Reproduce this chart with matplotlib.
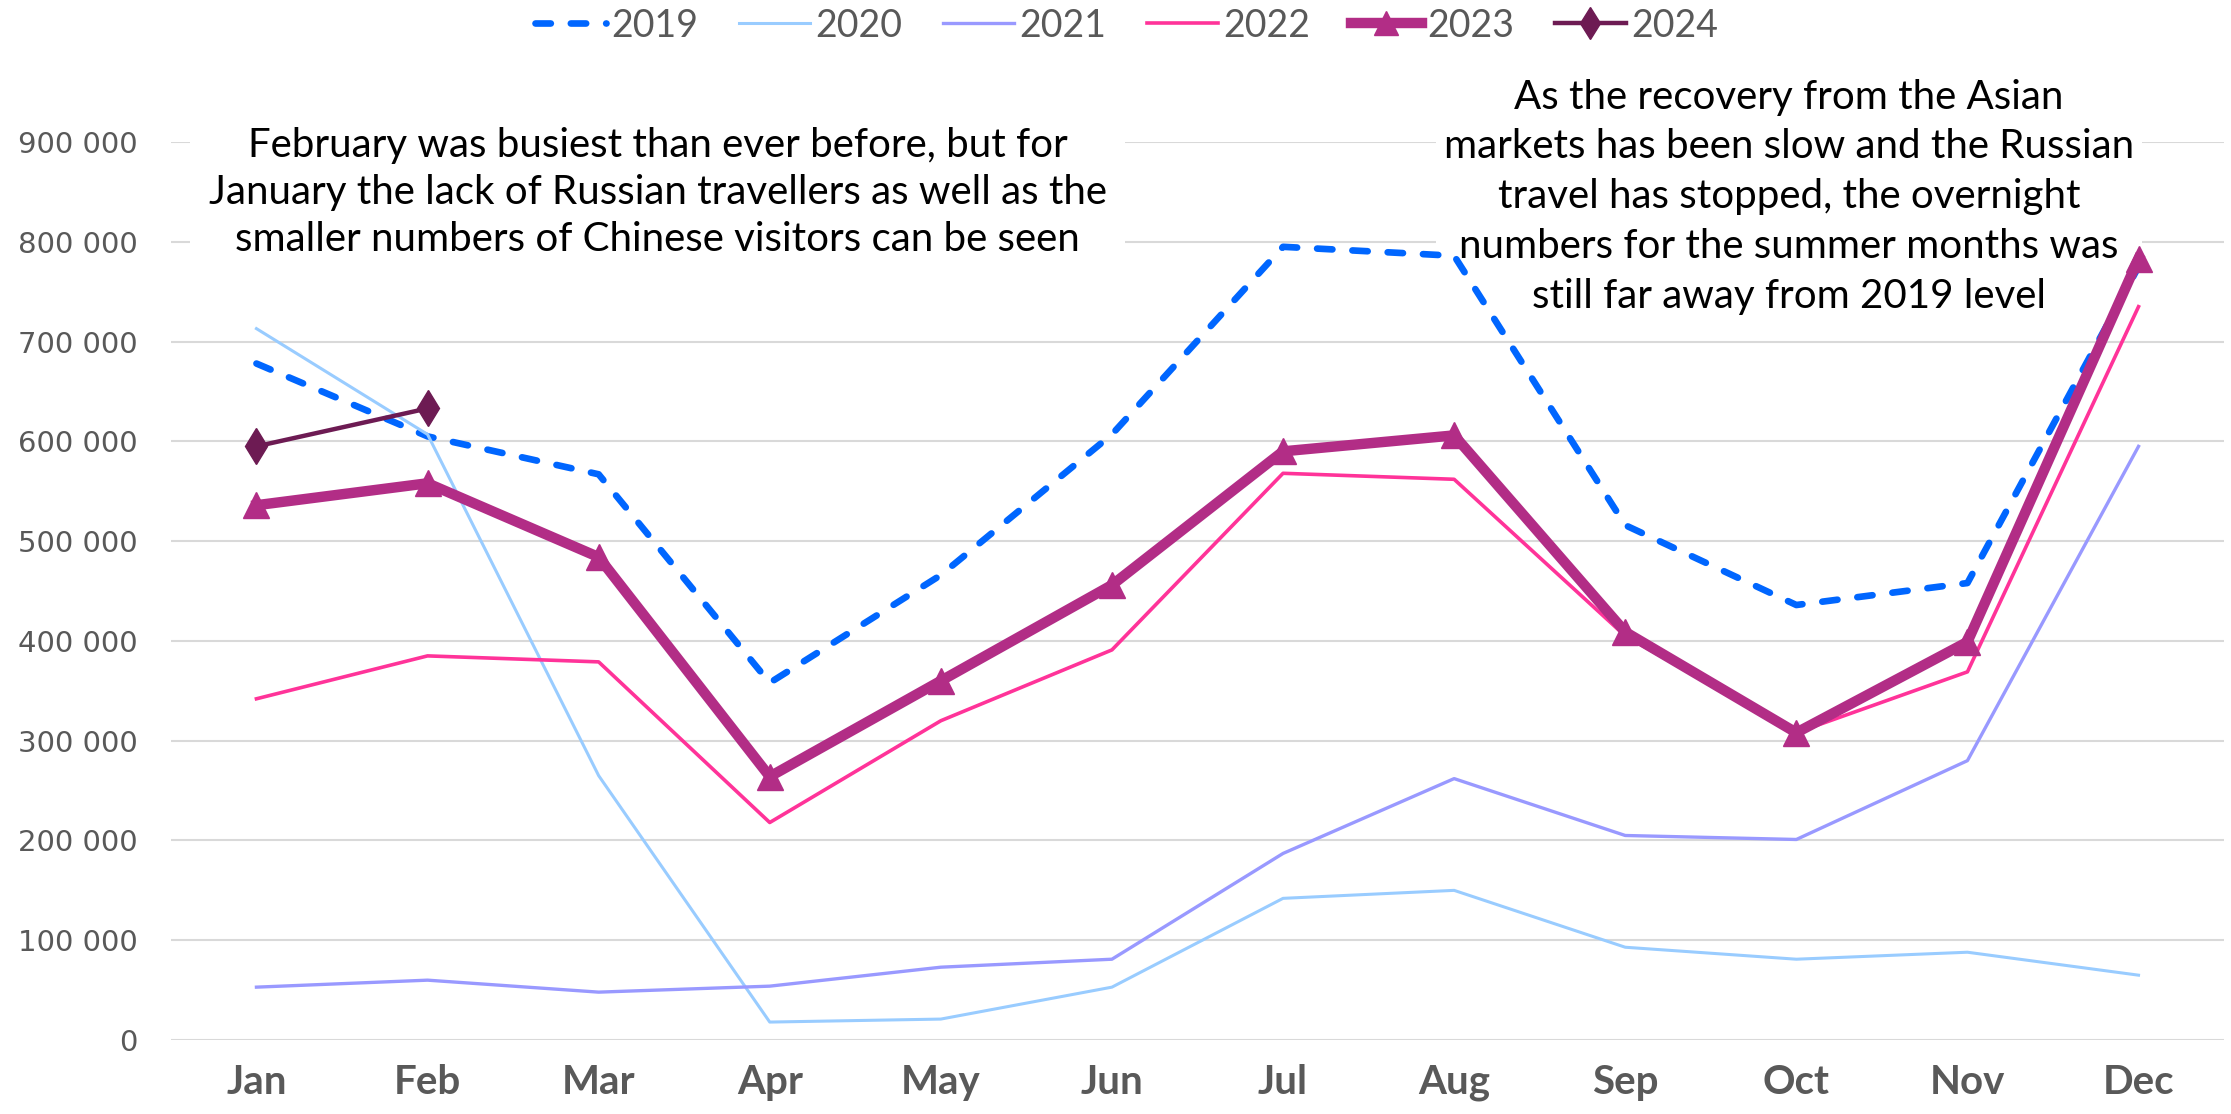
import matplotlib
matplotlib.use("Agg")
import matplotlib.pyplot as plt

months = ["Jan", "Feb", "Mar", "Apr", "May", "Jun", "Jul", "Aug", "Sep", "Oct", "Nov", "Dec"]

y2019 = [678000, 605000, 567000, 358000, 466000, 607000, 795000, 786000, 516000, 436000, 458000, 775000]
y2020 = [713000, 607000, 265000, 18000, 21000, 53000, 142000, 150000, 93000, 81000, 88000, 65000]
y2021 = [53000, 60000, 48000, 54000, 73000, 81000, 187000, 262000, 205000, 201000, 280000, 595000]
y2022 = [342000, 385000, 379000, 218000, 320000, 391000, 568000, 562000, 405000, 308000, 369000, 735000]
y2023 = [536000, 558000, 484000, 264000, 360000, 456000, 590000, 606000, 409000, 308000, 399000, 783000]
y2024 = [595000, 633000]

yticks = [0, 100000, 200000, 300000, 400000, 500000, 600000, 700000, 800000, 900000]

note_left = ("February was busiest than ever before, but for\n"
             "January the lack of Russian travellers as well as the\n"
             "smaller numbers of Chinese visitors can be seen")
note_right = ("As the recovery from the Asian\n"
              "markets has been slow and the Russian\n"
              "travel has stopped, the overnight\n"
              "numbers for the summer months was\n"
              "still far away from 2019 level")

font = "Lato"
grey = "#595959"

fig = plt.figure(figsize=(22.31, 11.14), dpi=100)
ax = fig.add_axes([0.0766, 0.0664, 0.9203, 0.8061])

x = list(range(len(months)))
ax.plot(x, y2019, color="#0066FF", lw=4.8, dashes=(2.3, 3.0),
        dash_capstyle="round", label="2019", zorder=3)
ax.plot(x, y2020, color="#99CCFF", lw=2.2, label="2020", zorder=3)
ax.plot(x, y2021, color="#9999FF", lw=2.4, label="2021", zorder=3)
ax.plot(x, y2022, color="#FF3399", lw=2.6, label="2022", zorder=3)
ax.plot(x, y2023, color="#B22D86", lw=7.5, marker="^", markersize=19,
        solid_joinstyle="round", label="2023", zorder=4)
ax.plot(x[:len(y2024)], y2024, color="#6D1B53", lw=3.2, marker="d",
        markersize=18, label="2024", zorder=5)

ax.set_xlim(-0.5, 11.5)
ax.set_ylim(0, 900000)
ax.set_yticks(yticks)
ax.set_yticklabels([f"{v:,}".replace(",", " ") for v in yticks])
ax.set_xticks(x)
ax.set_xticklabels(months)
ax.tick_params(axis="both", length=0)
ax.tick_params(axis="y", pad=24, labelsize=21, labelcolor=grey)
ax.tick_params(axis="x", pad=17, labelcolor=grey)
for lab in ax.get_xticklabels():
    lab.set_family(font)
    lab.set_fontsize(29)
    lab.set_fontweight("bold")
for s in ax.spines.values():
    s.set_visible(False)
ax.grid(axis="y", color="#D9D9D9", lw=1.5, zorder=0)
ax.set_axisbelow(True)

ax.text(0.237, 0.944, note_left, transform=ax.transAxes, ha="center", va="center",
        family=font, fontsize=29, linespacing=1.33, zorder=2,
        bbox=dict(boxstyle="square,pad=0.45", fc="white", ec="none"))
ax.text(0.788, 0.939, note_right, transform=ax.transAxes, ha="center", va="center",
        family=font, fontsize=29, linespacing=1.43, zorder=2,
        bbox=dict(boxstyle="square,pad=0.2", fc="white", ec="none"))

leg = fig.legend(loc="center", bbox_to_anchor=(0.505, 0.977), ncol=6, frameon=False,
                 prop={"family": font, "size": 27}, handlelength=1.9,
                 handletextpad=0.15, columnspacing=1.07, markerscale=0.9)
for t in leg.get_texts():
    t.set_color(grey)

fig.savefig("out.png", dpi=100)
